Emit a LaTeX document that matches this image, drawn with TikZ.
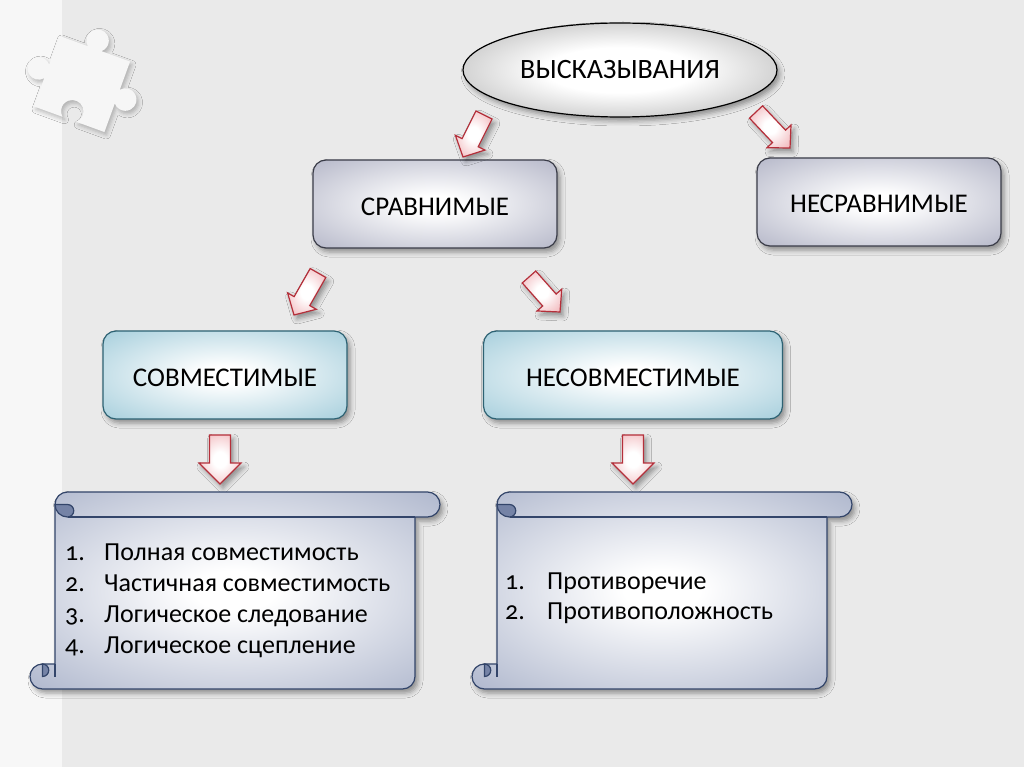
\documentclass[tikz,border=0pt]{standalone}
\usepackage{fontspec}
\setmainfont{Carlito}
\newfontfamily\numfont[Numbers=OldStyle]{Carlito}
\usetikzlibrary{calc,positioning,shapes.geometric,shadows.blur}
\definecolor{bgx}{HTML}{EAEAEA}
\definecolor{bgleft}{HTML}{F7F7F7}
\definecolor{piecex}{HTML}{F6F6F6}
\definecolor{greyx}{HTML}{9497B0}
\definecolor{greyline}{HTML}{3A3C48}
\definecolor{tealx}{HTML}{7DB8CC}
\definecolor{tealline}{HTML}{2D6273}
\definecolor{scrollx}{HTML}{8A96B6}
\definecolor{scrolldark}{HTML}{7583A6}
\definecolor{scrollline}{HTML}{33456A}
\definecolor{ballx}{HTML}{808080}
\definecolor{redx}{HTML}{B52F3A}
\definecolor{pinkx}{HTML}{E8878E}
\pgfdeclareradialshading{softgrey}{\pgfpointorigin}{color(0bp)=(white); color(5bp)=(white); color(50bp)=(greyx)}
\pgfdeclareradialshading{softteal}{\pgfpointorigin}{color(0bp)=(white); color(5bp)=(white); color(50bp)=(tealx)}
\pgfdeclareradialshading{softscroll}{\pgfpointorigin}{color(0bp)=(white); color(5bp)=(white); color(50bp)=(scrollx)}
\pgfdeclareradialshading{softball}{\pgfpointorigin}{color(0bp)=(white); color(12bp)=(white); color(50bp)=(ballx)}
\pgfdeclareradialshading{softpink}{\pgfpointorigin}{color(0bp)=(white); color(8bp)=(white); color(50bp)=(pinkx)}
\tikzset{
  shad/.style={blur shadow={shadow xshift=3pt,shadow yshift=-4pt,shadow blur radius=5pt,shadow opacity=40}},
  box/.style={draw=greyline,line width=1.2pt,rounded corners=13pt,shade,shading=softgrey,minimum height=88pt,
    text height=22pt,text depth=0pt,font=\fontsize{27}{32}\selectfont,shad},
  tealbox/.style={box,draw=tealline,shading=softteal},
  arrowbox/.style={draw=redx,line width=1.2pt,line join=miter,shade,shading=softpink,shad},
  scroll/.style={draw=scrollline,line width=1.2pt,line join=round,shade,shading=softscroll,shad},
  scrolldetail/.style={draw=scrollline,line width=1.2pt,fill=scrolldark},
  item/.style={font=\fontsize{26}{31}\selectfont,anchor=base west,inner sep=0pt}
}
% block arrow: tail, tip, shaft half width, head half width, head length
\newcommand\barrow[5]{%
  \coordinate (ba0) at (#1);
  \coordinate (ba1) at (#2);
  \coordinate (bah) at ($(ba1)!#5!(ba0)$);
  \draw[arrowbox] ($(ba0)!#3!90:(ba1)$) -- ($(bah)!#3!-90:(ba0)$) -- ($(bah)!#4!-90:(ba0)$)
    -- (ba1) -- ($(bah)!#4!90:(ba0)$) -- ($(bah)!#3!90:(ba0)$) -- ($(ba0)!#3!-90:(ba1)$) -- cycle;
}
% scroll: left, top, right, bottom
\newcommand\scrollbox[4]{%
  \draw[scroll] ({#1+25},{#2+12.5}) arc (180:270:12.5) -- ({#3-12.5},#2) arc (270:450:12.5)
    -- ({#3-25},{#2+25}) -- ({#3-25},{#4-12.5}) arc (0:90:12.5) -- ({#1+12.5},#4)
    arc (90:270:12.5) -- ({#1+25},{#4-25}) -- cycle;
  \draw[scrollline,line width=1.2pt] ({#1+37.5},{#2+25}) -- ({#3-25},{#2+25});
  \filldraw[scrolldetail] ({#1+37.5},{#2+12.5}) arc (270:450:6.25) arc (90:180:12.5) -- cycle;
  \filldraw[scrolldetail] ({#1+12.5},{#4-25}) arc (270:450:6.25) -- cycle;
  \draw[scrollline,line width=1.2pt] ({#1+25},{#4-25}) -- ({#1+25},{#4-12.5});
}

\begin{document}
\begin{tikzpicture}[x=1pt,y=-1pt]
\fill[bgx] (0,0) rectangle (1024,767);
\fill[bgleft] (0,0) rectangle (62,767);
\useasboundingbox (0,0) rectangle (1024,767);

% loose puzzle piece
\begin{scope}[shift={(82,84)},rotate=-20,scale=1.25]
\fill[piecex,blur shadow={shadow xshift=2pt,shadow yshift=-3pt,shadow blur radius=4pt,shadow opacity=25}]
  (-30,-30) -- (-6,-30) arc (130.6:409.4:9) -- (30,-30) -- (30,-6) arc (220.6:499.4:9)
  -- (30,30) -- (6,30) arc (49.4:-229.4:9) -- (-30,30) -- (-30,6) arc (40.6:319.4:9) -- cycle;
\end{scope}

\node[ellipse,draw=black,line width=1.2pt,shade,shading=softball,minimum width=314pt,minimum height=94pt,
  font=\fontsize{28}{33}\selectfont,shad] (vys) at (620,70) {ВЫСКАЗЫВАНИЯ};
\node[box,minimum width=244pt] (srav) at (435,204) {СРАВНИМЫЕ};
\node[box,minimum width=244pt] (nesrav) at (879,202) {НЕСРАВНИМЫЕ};
\node[tealbox,minimum width=244pt] (sovm) at (225,375) {СОВМЕСТИМЫЕ};
\node[tealbox,minimum width=299pt] (nesovm) at (633,375) {НЕСОВМЕСТИМЫЕ};

\barrow{484,115}{463,157}{9pt}{16.5pt}{16pt}
\barrow{756,112}{790,148}{9pt}{16.5pt}{16pt}
\barrow{318,273}{294,315}{9pt}{16.5pt}{16pt}
\barrow{529,277}{560,312}{9pt}{16.5pt}{16pt}
\barrow{220,435}{220,484}{10.5pt}{21pt}{21pt}
\barrow{633,435}{633,484}{10.5pt}{21pt}{21pt}

\scrollbox{30}{492}{440}{689}
\scrollbox{472}{492}{852}{689}

% lists
\foreach \t [count=\i] in {Полная совместимость,Частичная совместимость,Логическое следование,Логическое сцепление}{
  \node[item] (sv\i) at (104,{529+31*\i}) {\t};
  \node[item] (svn\i) at (65,{529+31*\i}) {\numfont\i.};
}
\foreach \t [count=\i] in {Противоречие,Противоположность}{
  \node[item] (ns\i) at (547,{559+30*\i}) {\t};
  \node[item] (nsn\i) at (505,{559+30*\i}) {\numfont\i.};
}
\end{tikzpicture}
\end{document}
